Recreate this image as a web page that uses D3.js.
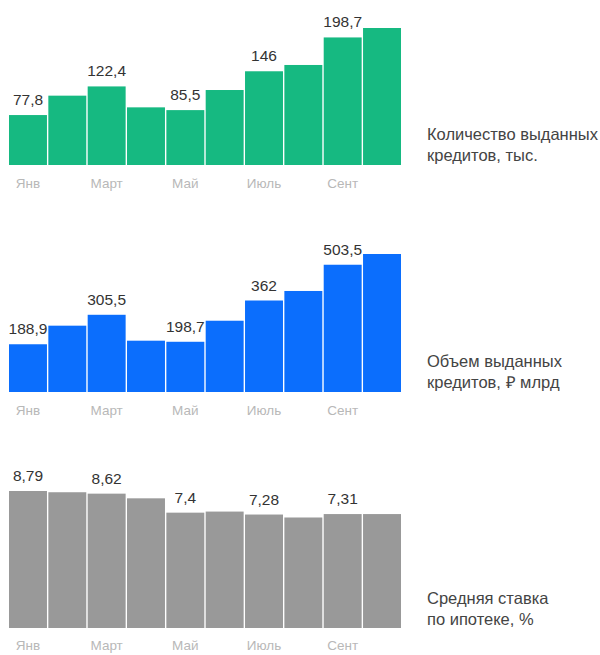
<!DOCTYPE html>
<html>
<head>
<meta charset="utf-8">
<script src="https://cdn.jsdelivr.net/npm/d3@7"></script>
<style>
  body { margin: 0; background: #fff; }
  svg text { font-family: "Liberation Sans", Arial, sans-serif; }
</style>
</head>
<body>
<svg id="chart" width="600" height="655"></svg>
<script>
// months (labels shown only every second one)
const months = ["Янв", "Фев", "Март", "Апр", "Май", "Июнь", "Июль", "Авг", "Сент", "Окт"];
const shownIdx = [0, 2, 4, 6, 8];

// values
const loansCount = [77.8, 108, 122.4, 89.8, 85.5, 116.8, 146, 155.8, 198.7, 213.4];
const loansVolume = [188.9, 262.4, 305.5, 203, 198.7, 282, 362, 399.7, 503.5, 546];
const mortgageRate = [8.79, 8.71, 8.62, 8.32, 7.4, 7.47, 7.28, 7.09, 7.31, 7.31];

const countLabels = ["77,8", "122,4", "85,5", "146", "198,7"];
const volumeLabels = ["188,9", "305,5", "198,7", "362", "503,5"];
const rateLabels = ["8,79", "8,62", "7,4", "7,28", "7,31"];

const titles = [
    ["Количество выданных", "кредитов, тыс."],
    ["Объем выданных", "кредитов, ₽ млрд"],
    ["Средняя ставка", "по ипотеке, %"]
];

const svg = d3.select("#chart");

const x = d3.scaleBand()
    .domain(months)
    .range([9, 401])
    .paddingInner(0.035);

/**
 * Draw one small bar panel.
 */
function drawPanel(values, labels, color, base, top, monthY, title, titleY) {
    const y = d3.scaleLinear()
        .domain([0, d3.max(values)])
        .range([base, top]);

    const g = svg.append("g");

    g.selectAll("rect")
        .data(values)
        .enter()
        .append("rect")
        .attr("x", (d, i) => x(months[i]))
        .attr("y", d => y(d))
        .attr("width", x.bandwidth())
        .attr("height", d => base - y(d))
        .style("fill", color);

    // value labels above every second bar
    g.selectAll(".val")
        .data(shownIdx)
        .enter()
        .append("text")
        .attr("class", "val")
        .attr("x", i => x(months[i]) + x.bandwidth() / 2)
        .attr("y", i => y(values[i]) - 10)
        .attr("text-anchor", "middle")
        .style("font-size", "15.5px")
        .style("fill", "#333")
        .text((i, k) => labels[k]);

    // month axis labels
    g.selectAll(".mon")
        .data(shownIdx)
        .enter()
        .append("text")
        .attr("class", "mon")
        .attr("x", i => x(months[i]) + x.bandwidth() / 2)
        .attr("y", monthY)
        .attr("text-anchor", "middle")
        .style("font-size", "13.5px")
        .style("fill", "#b8b8b8")
        .text(i => months[i]);

    // title on the right
    const t = g.append("text")
        .attr("x", 427)
        .attr("y", titleY)
        .style("font-size", "16.5px")
        .style("fill", "#444");
    t.selectAll("tspan")
        .data(title)
        .enter()
        .append("tspan")
        .attr("x", 427)
        .attr("dy", (d, i) => i === 0 ? 0 : 21)
        .text(d => d);
}

drawPanel(loansCount, countLabels, "#16b981", 165, 28, 188, titles[0], 140);
drawPanel(loansVolume, volumeLabels, "#0b6efd", 392, 254, 415, titles[1], 367);
drawPanel(mortgageRate, rateLabels, "#999999", 628, 491, 650, titles[2], 604);
</script>
</body>
</html>
